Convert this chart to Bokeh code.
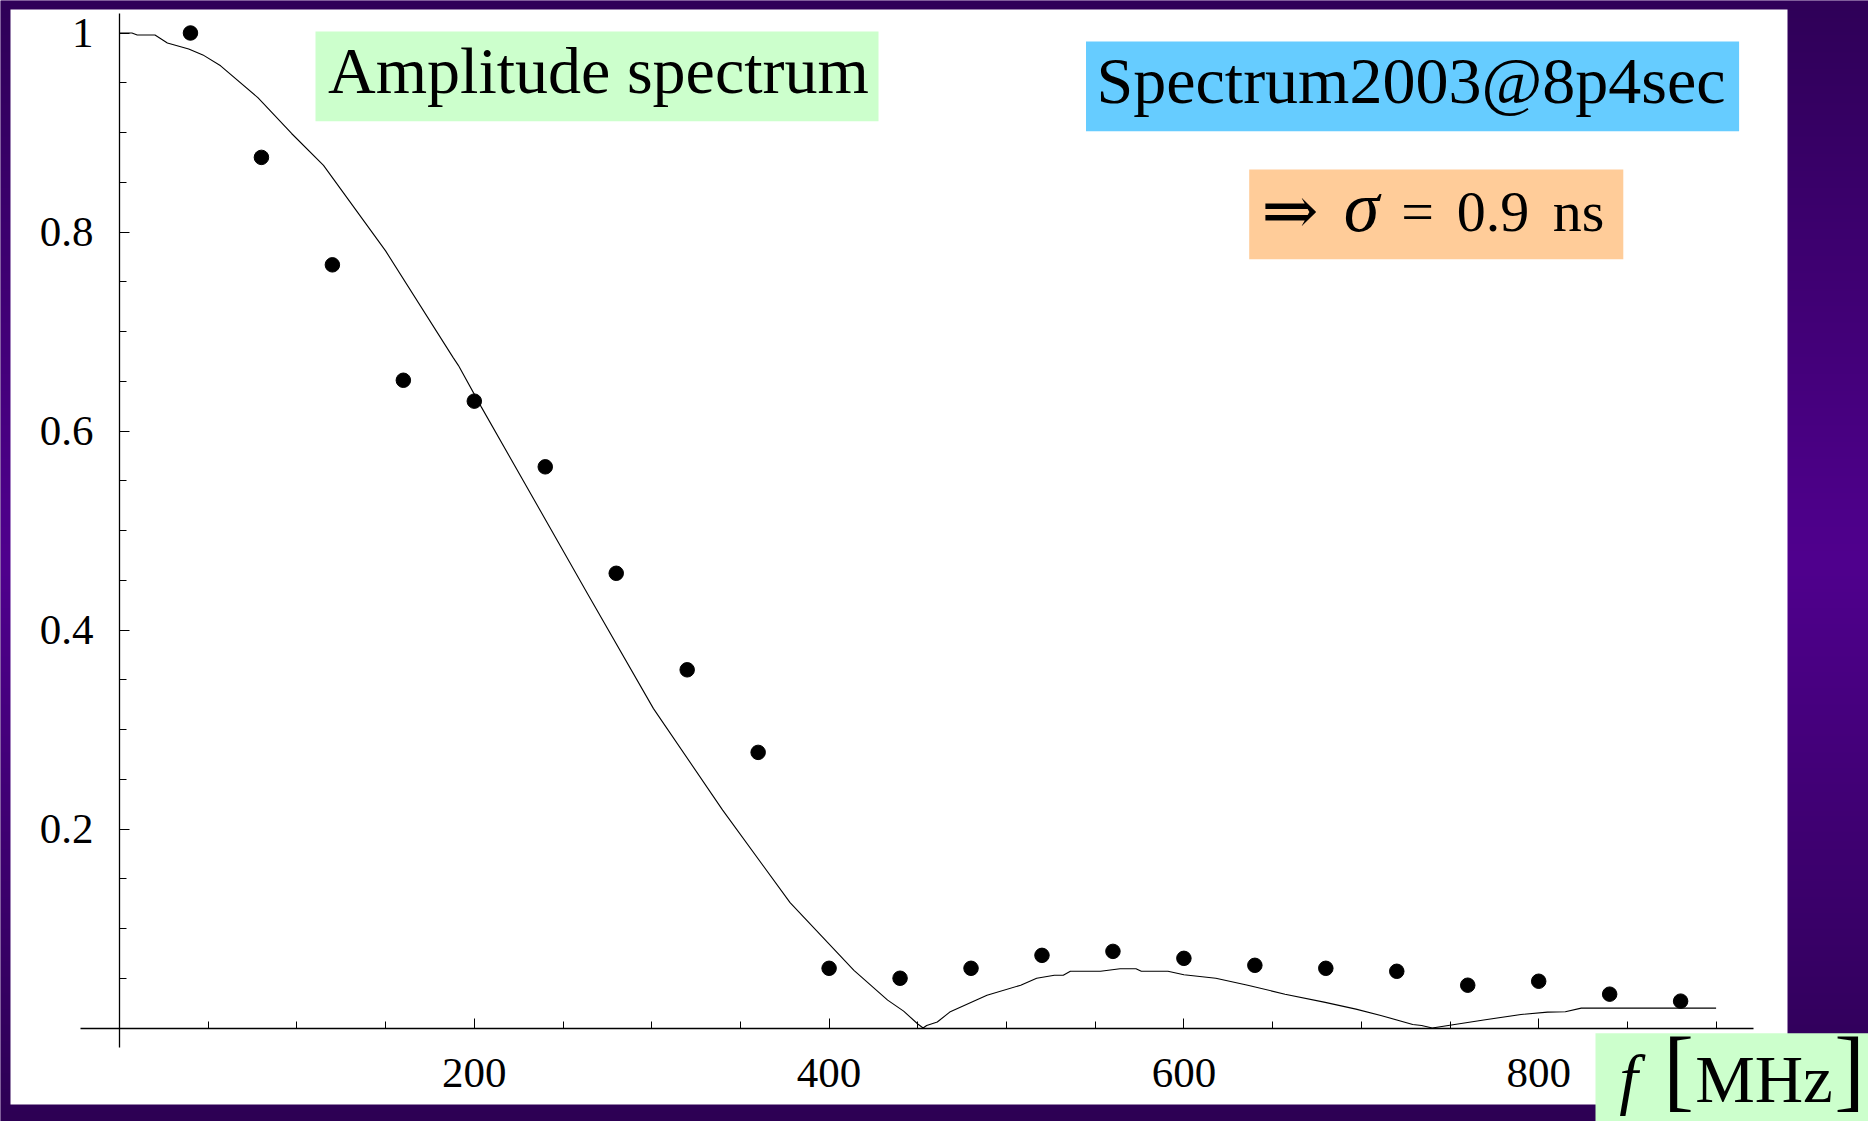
import numpy as np
from bokeh.plotting import figure
from bokeh.models import (LinearAxis, FixedTicker, Range1d, BoxAnnotation, Label)
from bokeh.embed import file_html
from bokeh.resources import INLINE

# ---------------- data ----------------
curve_f = [0, 7, 10, 20, 27, 39, 47, 57, 78, 97, 115, 150, 188, 191, 204, 264, 301, 340, 378, 414,
           433, 442, 450, 453, 455, 461, 468, 489, 508, 517, 527, 532, 536, 553, 564, 573, 576, 591,
           600, 618, 636, 657, 679, 697, 711, 729, 734, 740, 749, 769, 790, 805, 815, 824, 900]
curve_a = [1.0, 1.0, 0.998, 0.998, 0.990, 0.984, 0.978, 0.967, 0.935, 0.899, 0.867, 0.781, 0.674,
           0.666, 0.624, 0.436, 0.321, 0.219, 0.126, 0.058, 0.028, 0.017, 0.004, 0.0, 0.0025, 0.006,
           0.016, 0.033, 0.043, 0.050, 0.053, 0.053, 0.057, 0.057, 0.0595, 0.0595, 0.057, 0.057,
           0.0535, 0.050, 0.043, 0.034, 0.026, 0.019, 0.0126, 0.0035, 0.0025, 0.0, 0.0025, 0.008,
           0.0136, 0.016, 0.0163, 0.020, 0.020]

pts_f = [40, 80, 120, 160, 200, 240, 280, 320, 360, 400, 440, 480, 520, 560, 600, 640, 680, 720,
         760, 800, 840, 880]
pts_a = [1.0, 0.875, 0.767, 0.651, 0.630, 0.564, 0.457, 0.360, 0.277, 0.060, 0.050, 0.060, 0.073,
         0.077, 0.070, 0.063, 0.060, 0.057, 0.043, 0.047, 0.034, 0.027]

x_ticks = [200, 400, 600, 800]
x_tick_labels = ["200", "400", "600", "800"]
x_minor = [50, 100, 150, 250, 300, 350, 450, 500, 550, 650, 700, 750, 850, 900]
y_ticks = [0.2, 0.4, 0.6, 0.8, 1.0]
y_tick_labels = ["0.2", "0.4", "0.6", "0.8", "1"]
y_minor = [0.05, 0.1, 0.15, 0.25, 0.3, 0.35, 0.45, 0.5, 0.55, 0.65, 0.7, 0.75, 0.85, 0.9, 0.95]

# ---------------- layout (pixel geometry of the slide) ----------------
W, H = 1868, 1121
OFF = 0
X0, KX = 119.0, 1.774     # px of f=0, px per MHz
Y0, KY = 1027.5, 995.0    # px of A=0, px per unit


def dx(px):
    return (px - X0) / KX


def dy(py):
    return (Y0 - py) / KY


x0, x1 = dx(OFF), dx(OFF + W)
y0, y1 = dy(OFF + H), dy(OFF)

SERIF = "Liberation Serif"

p = figure(width=W, height=H, x_range=Range1d(x0, x1), y_range=Range1d(y0, y1),
           x_axis_type=None, y_axis_type=None, toolbar_location=None,
           output_backend="svg", min_border=0)
p.outline_line_color = None
p.background_fill_color = "#3a0068"
p.border_fill_color = "#3a0068"

# purple slide background gradient (vertical)
rows = np.arange(H) + OFF + 0.5
stops_y = [0, 560, 1121]
R = np.interp(rows, stops_y, [47, 80, 45])
G = np.interp(rows, stops_y, [0, 0, 0])
B = np.interp(rows, stops_y, [88, 142, 84])
img = np.zeros((H, 1), dtype=np.uint32)
view = img.view(dtype=np.uint8).reshape((H, 1, 4))
view[:, 0, 0] = R[::-1].astype(np.uint8)
view[:, 0, 1] = G[::-1].astype(np.uint8)
view[:, 0, 2] = B[::-1].astype(np.uint8)
view[:, 0, 3] = 255
p.image_rgba(image=[img], x=x0, y=y0, dw=x1 - x0, dh=y1 - y0, level="image")

# white panel
p.add_layout(BoxAnnotation(left=dx(10), right=dx(1787), top=dy(9), bottom=dy(1104),
                           fill_color="white", fill_alpha=1.0, line_alpha=0, level="underlay"))

# coloured label boxes
for (l, r, t, b, c) in [(315, 878, 31, 120.7, "#ccffcc"),
                        (1085.5, 1738.6, 41, 130.7, "#66ccff"),
                        (1248.7, 1622.8, 169, 258.7, "#ffcc99"),
                        (1595, 1875, 1032.7, 1130, "#ccffcc")]:
    p.add_layout(BoxAnnotation(left=dx(l), right=dx(r), top=dy(t), bottom=dy(b),
                               fill_color=c, fill_alpha=1.0, line_alpha=0, level="underlay"))

# axes crossing at the origin
xaxis = LinearAxis(fixed_location=0, bounds=(-22, 921),
                   ticker=FixedTicker(ticks=x_ticks, minor_ticks=x_minor))
xaxis.major_label_overrides = {t: s for t, s in zip(x_ticks, x_tick_labels)}
yaxis = LinearAxis(fixed_location=0, bounds=(-0.02, 1.02),
                   ticker=FixedTicker(ticks=y_ticks, minor_ticks=y_minor))
yaxis.major_label_overrides = {t: s for t, s in zip(y_ticks, y_tick_labels)}
for ax in (xaxis, yaxis):
    ax.axis_line_color = "black"
    ax.axis_line_width = 1.3
    ax.major_tick_line_color = "black"
    ax.minor_tick_line_color = "black"
    ax.major_tick_in = 10
    ax.major_tick_out = 0
    ax.minor_tick_in = 7
    ax.minor_tick_out = 0
    ax.major_label_text_font = SERIF
    ax.major_label_text_color = "black"
    ax.major_label_text_font_size = "43px"
xaxis.major_label_standoff = 31
yaxis.major_label_standoff = 26
p.add_layout(xaxis, "below")
p.add_layout(yaxis, "left")

# data
p.line(curve_f, curve_a, line_color="black", line_width=1.1)
p.scatter(pts_f, pts_a, size=14.5, fill_color="black", line_color="black")

# texts (y given as the baseline in px; corrected for the renderer's baseline offset)


def lab(x, y, text, size, align="left", style="normal", font=SERIF):
    y_adj = y - 0.35 * size
    p.add_layout(Label(x=dx(x), y=dy(y_adj), text=text, text_font=font,
                       text_font_size=f"{size}px", text_font_style=style, text_align=align,
                       text_baseline="alphabetic", text_color="black"))


lab(327.6, 93.3, "Amplitude spectrum", 66)
lab(1096, 103.3, "Spectrum2003@8p4sec", 66)
lab(1289.5, 234, "\u21d2", 68, align="center", font="DejaVu Serif")
lab(1361, 231.5, "\u03c3", 72, align="center", style="italic")
lab(1417, 231.5, "=", 58, align="center")
lab(1492.6, 231.5, "0.9", 58, align="center")
lab(1578, 231.5, "ns", 58, align="center")
lab(1628, 1101.7, "f", 67, align="center", style="italic")
lab(1678, 1101, "[", 92, align="center")
lab(1763.5, 1101.7, "MHz", 67, align="center")
lab(1849, 1101, "]", 92, align="center")

open("out.html", "w").write(file_html(p, INLINE))
